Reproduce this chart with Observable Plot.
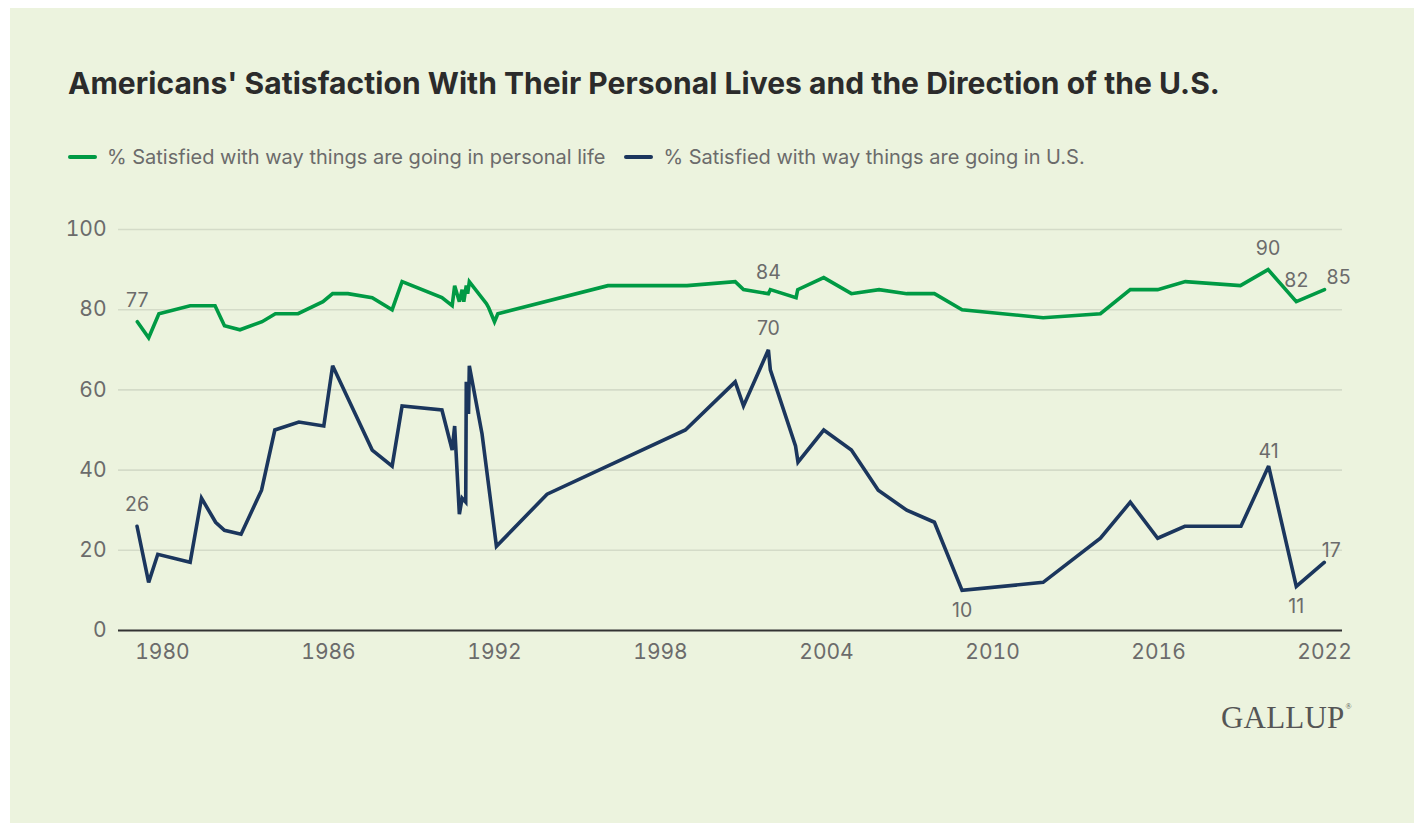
<!DOCTYPE html>
<html>
<head>
<meta charset="utf-8">
<script src="https://cdn.jsdelivr.net/npm/d3@7"></script>
<script src="https://cdn.jsdelivr.net/npm/@observablehq/plot@0.6"></script>
<style>
  html, body { margin: 0; padding: 0; background: #ffffff; }
  body { width: 1414px; height: 823px; position: relative; overflow: hidden; font-family: Inter, "Noto Sans", sans-serif; }
  #card { position: absolute; left: 10px; top: 8px; width: 1404px; height: 815px; background: #ECF3DE; }
  #title { position: absolute; left: 68px; top: 65px; font-size: 30px; font-weight: 700; color: #2b2b2b; letter-spacing: 0.04px; white-space: nowrap; line-height: 36px; }
  #legend { position: absolute; left: 68px; top: 144px; font-size: 20px; color: #6b6b6b; white-space: nowrap; line-height: 26px; display: flex; align-items: center; }
  .sw { display: inline-block; width: 29px; height: 4px; border-radius: 2px; margin-right: 10px; }
  .item { display: inline-flex; align-items: center; margin-right: 19px; }
  #chart { position: absolute; left: 0; top: 200px; }
  #logo { position: absolute; left: 1221px; top: 690px; font-family: "Liberation Serif", "DejaVu Serif", serif; font-size: 31px; color: #555555; letter-spacing: 0.2px; line-height: 34px; white-space: nowrap; }
  #logo sup { font-size: 8px; vertical-align: 19px; margin-left: 1px; }
</style>
</head>
<body>
<div id="card"></div>
<div id="title">Americans' Satisfaction With Their Personal Lives and the Direction of the U.S.</div>
<div id="legend"></div>
<div id="chart"></div>
<div id="logo">GALLUP<sup>®</sup></div>
<script>
// ---- Data ----
const seriesNames = ["% Satisfied with way things are going in personal life", "% Satisfied with way things are going in U.S."];

const personalYears = [1979.09, 1979.5, 1979.87, 1981.0, 1981.9, 1982.24, 1982.8, 1983.6, 1984.08, 1984.9, 1985.8, 1986.15, 1986.7, 1987.58, 1988.3, 1988.66, 1990.1, 1990.47, 1990.56, 1990.73, 1990.83, 1990.89, 1990.98, 1991.03, 1991.09, 1991.71, 1991.79, 1992.0, 1992.12, 1996.1, 1998.96, 2000.7, 2001.0, 2001.9, 2001.97, 2002.9, 2002.96, 2003.9, 2004.9, 2005.9, 2006.9, 2007.9, 2008.9, 2011.83, 2013.9, 2014.98, 2015.97, 2016.97, 2018.96, 2019.96, 2020.98, 2022.0];
const personalValues = [77, 73, 79, 81, 81, 76, 75, 77, 79, 79, 82, 84, 84, 83, 80, 87, 83, 81, 86, 82, 85, 82, 86, 84, 87, 81.5, 80.5, 77, 79, 86, 86, 87, 85, 84, 85, 83, 85, 88, 84, 85, 84, 84, 80, 78, 79, 85, 85, 87, 86, 90, 82, 85];

const usYears = [1979.08, 1979.5, 1979.83, 1981.0, 1981.41, 1981.92, 1982.24, 1982.84, 1983.58, 1984.06, 1984.93, 1985.83, 1986.15, 1987.58, 1988.3, 1988.66, 1990.1, 1990.47, 1990.56, 1990.73, 1990.83, 1990.96, 1990.98, 1991.06, 1991.09, 1991.55, 1992.07, 1993.9, 1998.9, 2000.7, 2001.0, 2001.9, 2001.97, 2002.88, 2002.97, 2003.9, 2004.9, 2005.87, 2006.9, 2007.9, 2008.9, 2011.83, 2013.9, 2014.98, 2015.97, 2016.95, 2018.98, 2019.98, 2020.98, 2021.99];
const usValues = [26, 12, 19, 17, 33, 27, 25, 24, 35, 50, 52, 51, 66, 45, 41, 56, 55, 45, 51, 29, 33, 32, 62, 54, 66, 49, 21, 34, 50, 62, 56, 70, 65, 46, 42, 50, 45, 35, 30, 27, 10, 12, 23, 32, 23, 26, 26, 41, 11, 17];

// labelled points
const labelsAbove = [
  {year: 1979.09, value: 77}, {year: 1979.08, value: 26},
  {year: 2001.9, value: 84}, {year: 2001.9, value: 70},
  {year: 2019.96, value: 90}, {year: 2020.98, value: 82}
];
const labelsAboveNear = [{year: 2019.98, value: 41}];
const labelsBelow = [{year: 2008.9, value: 10}, {year: 2020.98, value: 11}];
const labelsRight = [{year: 2022.0, value: 85}];
const labelsRightNear = [{year: 2021.99, value: 17}];

const xTicks = [1980, 1986, 1992, 1998, 2004, 2010, 2016, 2022];
const yTicks = [0, 20, 40, 60, 80, 100];

const GREEN = "#009A44";
const NAVY = "#1B365D";
const colors = [GREEN, NAVY];

const personal = personalYears.map((y, i) => ({year: y, value: personalValues[i]}));
const us = usYears.map((y, i) => ({year: y, value: usValues[i]}));

// ---- Legend ----
const legend = document.getElementById("legend");
seriesNames.forEach((name, i) => {
  const item = document.createElement("span");
  item.className = "item";
  const sw = document.createElement("span");
  sw.className = "sw";
  sw.style.background = colors[i];
  item.appendChild(sw);
  item.appendChild(document.createTextNode(name));
  legend.appendChild(item);
});

// ---- Chart ----
const labelStyle = {fill: "#6b6b6b", fontSize: 19.5, stroke: null};
const chart = Plot.plot({
  width: 1414,
  height: 470,
  marginLeft: 118,
  marginRight: 72,
  marginTop: 29,
  marginBottom: 40,
  style: {background: "transparent", fontFamily: "Inter, sans-serif", fontSize: "21px", color: "#6b6b6b", overflow: "visible"},
  x: {domain: [1978.41, 2022.65], ticks: xTicks, tickFormat: d => String(d), tickSize: 0, tickPadding: 14, label: null},
  y: {domain: [0, 100], ticks: yTicks, tickSize: 0, tickPadding: 12, label: null},
  marks: [
    Plot.ruleY(yTicks.filter(d => d > 0), {stroke: "#d4dbc8", strokeWidth: 1.6}),
    Plot.ruleY([0], {stroke: "#333333", strokeWidth: 1.8}),
    Plot.line(personal, {x: "year", y: "value", stroke: GREEN, strokeWidth: 3.6, strokeLinejoin: "miter", strokeMiterlimit: 3}),
    Plot.line(us, {x: "year", y: "value", stroke: NAVY, strokeWidth: 3.6, strokeLinejoin: "miter", strokeMiterlimit: 3}),
    Plot.text(labelsAbove, {x: "year", y: "value", text: d => String(d.value), dy: -21, ...labelStyle}),
    Plot.text(labelsAboveNear, {x: "year", y: "value", text: d => String(d.value), dy: -14, ...labelStyle}),
    Plot.text(labelsBelow, {x: "year", y: "value", text: d => String(d.value), dy: 20, ...labelStyle}),
    Plot.text(labelsRight, {x: "year", y: "value", text: d => String(d.value), dx: 14, dy: -12, ...labelStyle}),
    Plot.text(labelsRightNear, {x: "year", y: "value", text: d => String(d.value), dx: 7, dy: -12, ...labelStyle})
  ]
});
document.getElementById("chart").appendChild(chart);
</script>
</body>
</html>
